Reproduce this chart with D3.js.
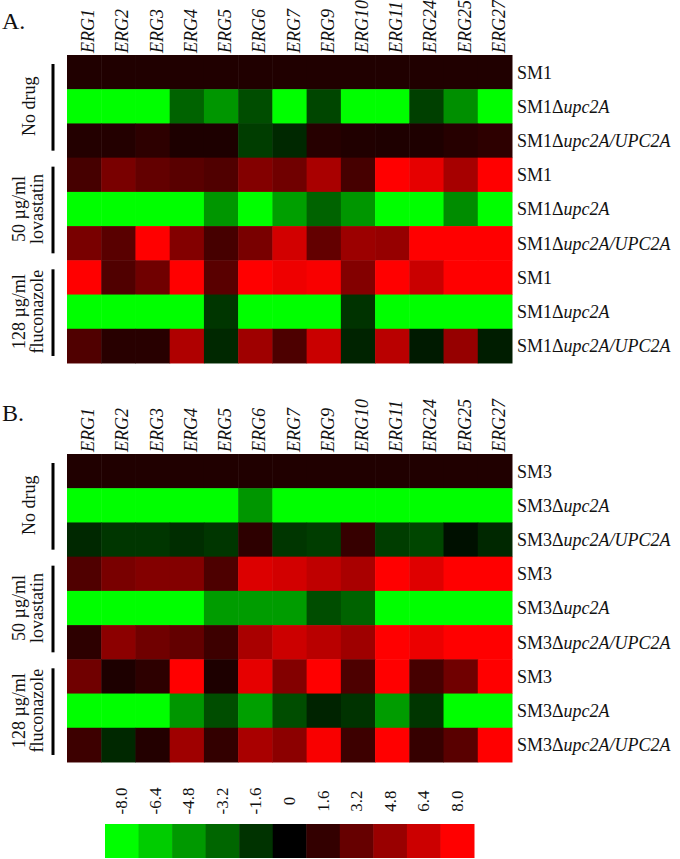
<!DOCTYPE html>
<html>
<head>
<meta charset="utf-8">
<script src="https://cdn.jsdelivr.net/npm/d3@7"></script>
<style>
  html, body { margin: 0; padding: 0; background: #fff; }
  svg { display: block; }
  text { font-family: "Liberation Serif", "Times New Roman", serif; fill: #111; }
</style>
</head>
<body>
<svg id="chart" width="680" height="859"></svg>
<script>
// ---- Data ----
const genes = ["ERG1","ERG2","ERG3","ERG4","ERG5","ERG6","ERG7","ERG9","ERG10","ERG11","ERG24","ERG25","ERG27"];
const conditions = [["No drug"], ["50 \u00b5g/ml", "lovastatin"], ["128 \u00b5g/ml", "fluconazole"]];
const strainTypes = ["wt", "del", "comp"]; // repeated within each condition
const panelLabels = ["A.", "B."];
const strainNames = ["SM1", "SM3"];

// log2 fold change values, rows: condition x strain type
const valuesA = [
  [1.0, 1.0, 1.0, 1.0, 1.0, 1.0, 1.0, 1.0, 1.0, 1.0, 1.0, 1.0, 1.0],
  [-8, -8, -8, -3.1, -4.7, -2.4, -8, -2.2, -8, -8, -2.0, -4.5, -8],
  [1.1, 1.1, 1.4, 0.9, 0.9, -1.9, -1.25, 1.2, 1.0, 0.95, 0.95, 1.2, 1.4],
  [2.2, 3.8, 3.1, 2.8, 2.5, 4.1, 3.5, 5.3, 2.2, 8, 7.2, 5.2, 8],
  [-8, -8, -8, -8, -4.7, -8, -5.0, -3.1, -4.7, -8, -8, -4.4, -8],
  [3.8, 2.8, 8, 4.1, 2.2, 3.8, 6.6, 3.1, 4.9, 4.7, 8, 8, 8],
  [8, 2.5, 3.5, 8, 2.8, 8, 7.5, 7.8, 4.1, 8, 6.3, 8, 8],
  [-8, -8, -8, -8, -1.7, -8, -8, -8, -1.6, -8, -8, -8, -8],
  [2.5, 1.25, 1.25, 5.5, -1.25, 5.0, 2.4, 6.3, -1.1, 5.8, -0.8, 4.7, -0.9]
];
const valuesB = [
  [1.0, 1.0, 1.0, 1.0, 1.0, 1.0, 1.0, 1.0, 1.0, 1.0, 1.0, 1.0, 1.0],
  [-8, -8, -8, -8, -8, -4.7, -8, -8, -8, -8, -8, -8, -8],
  [-1.25, -1.7, -1.7, -1.4, -1.7, 1.4, -1.7, -1.9, 1.7, -1.9, -2.2, -0.5, -1.25],
  [2.5, 3.8, 4.1, 4.1, 2.4, 6.9, 6.6, 6.0, 5.3, 8, 7.0, 8, 8],
  [-8, -8, -8, -8, -4.9, -4.9, -4.9, -2.4, -3.1, -8, -8, -8, -8],
  [1.4, 4.4, 3.5, 3.1, 1.9, 5.3, 6.4, 5.8, 5.0, 8, 7.4, 8, 8],
  [3.5, 0.9, 1.4, 8, 0.9, 7.2, 4.1, 8, 2.4, 8, 2.2, 3.5, 8],
  [-8, -8, -8, -4.7, -2.4, -5.0, -2.4, -1.1, -1.6, -4.9, -1.7, -8, -8],
  [1.9, -1.25, 1.1, 5.0, 1.6, 5.3, 4.4, 7.8, 1.9, 8, 1.7, 2.8, 8]
];
const legendTicks = [-8.0, -6.4, -4.8, -3.2, -1.6, 0, 1.6, 3.2, 4.8, 6.4, 8.0];
const legendTickLabels = ["-8.0", "-6.4", "-4.8", "-3.2", "-1.6", "0", "1.6", "3.2", "4.8", "6.4", "8.0"];

// ---- Drawing ----
const svg = d3.select("#chart");
const color = d3.scaleLinear().domain([-8, 0, 8]).range(["#00ff00", "#000000", "#ff0000"]).clamp(true);

const x = d3.scaleBand().domain(genes).range([67, 512]).padding(0);
const panelTops = [55, 454];
const letterY = [29, 421];
const rowH = 34.22;
const panels = [valuesA, valuesB];

panels.forEach((vals, p) => {
  const top = panelTops[p];
  const rowIds = d3.range(vals.length);
  const y = d3.scaleBand().domain(rowIds).range([top, top + rowH * vals.length]).padding(0);
  const g = svg.append("g");

  // panel letter
  g.append("text").attr("x", 2).attr("y", letterY[p]).attr("font-size", 24).text(panelLabels[p]);

  // cells
  vals.forEach((row, r) => {
    g.selectAll(null).data(row).enter().append("rect")
      .attr("x", (d, i) => x(genes[i]))
      .attr("y", y(r))
      .attr("width", x.bandwidth() + 0.5)
      .attr("height", y.bandwidth() + 0.5)
      .attr("fill", d => color(d));
  });

  // gene labels
  g.selectAll(".gene").data(genes).enter().append("text")
    .attr("transform", d => `translate(${x(d) + x.bandwidth() / 2 + 10},${top - 2}) rotate(-90)`)
    .attr("font-size", 18).attr("font-style", "italic")
    .text(d => d);

  // row labels
  rowIds.forEach(r => {
    const t = g.append("text").attr("x", 517).attr("y", y(r) + y.bandwidth() / 2 + 6.5).attr("font-size", 18);
    const type = strainTypes[r % 3];
    t.append("tspan").text(strainNames[p]);
    if (type !== "wt") {
      t.append("tspan").text("\u0394");
      t.append("tspan").attr("font-style", "italic").text(type === "del" ? "upc2A" : "upc2A/UPC2A");
    }
  });

  // condition groups
  conditions.forEach((lines, c) => {
    const gy0 = y(c * 3), gy1 = y(c * 3 + 2) + y.bandwidth();
    g.append("rect").attr("x", 51.5).attr("y", gy0 + 9).attr("width", 3).attr("height", gy1 - gy0 - 16).attr("fill", "#000");
    const cy = (gy0 + gy1) / 2;
    const xs = lines.length === 1 ? [35] : [25, 43];
    lines.forEach((ln, k) => {
      g.append("text")
        .attr("transform", `translate(${xs[k]},${cy}) rotate(-90)`)
        .attr("text-anchor", "middle").attr("font-size", 18)
        .text(ln);
    });
  });
});

// legend
const lx = d3.scaleBand().domain(legendTicks).range([105, 474]).padding(0);
const lg = svg.append("g");
lg.selectAll("rect").data(legendTicks).enter().append("rect")
  .attr("x", d => lx(d)).attr("y", 824)
  .attr("width", lx.bandwidth() + 0.5).attr("height", 34)
  .attr("fill", d => color(d));
lg.selectAll("text").data(legendTicks).enter().append("text")
  .attr("transform", d => `translate(${lx(d) + lx.bandwidth() / 2 + 5.5},801) rotate(-90)`)
  .attr("text-anchor", "middle").attr("font-size", 17)
  .text((d, i) => legendTickLabels[i]);
</script>
</body>
</html>
